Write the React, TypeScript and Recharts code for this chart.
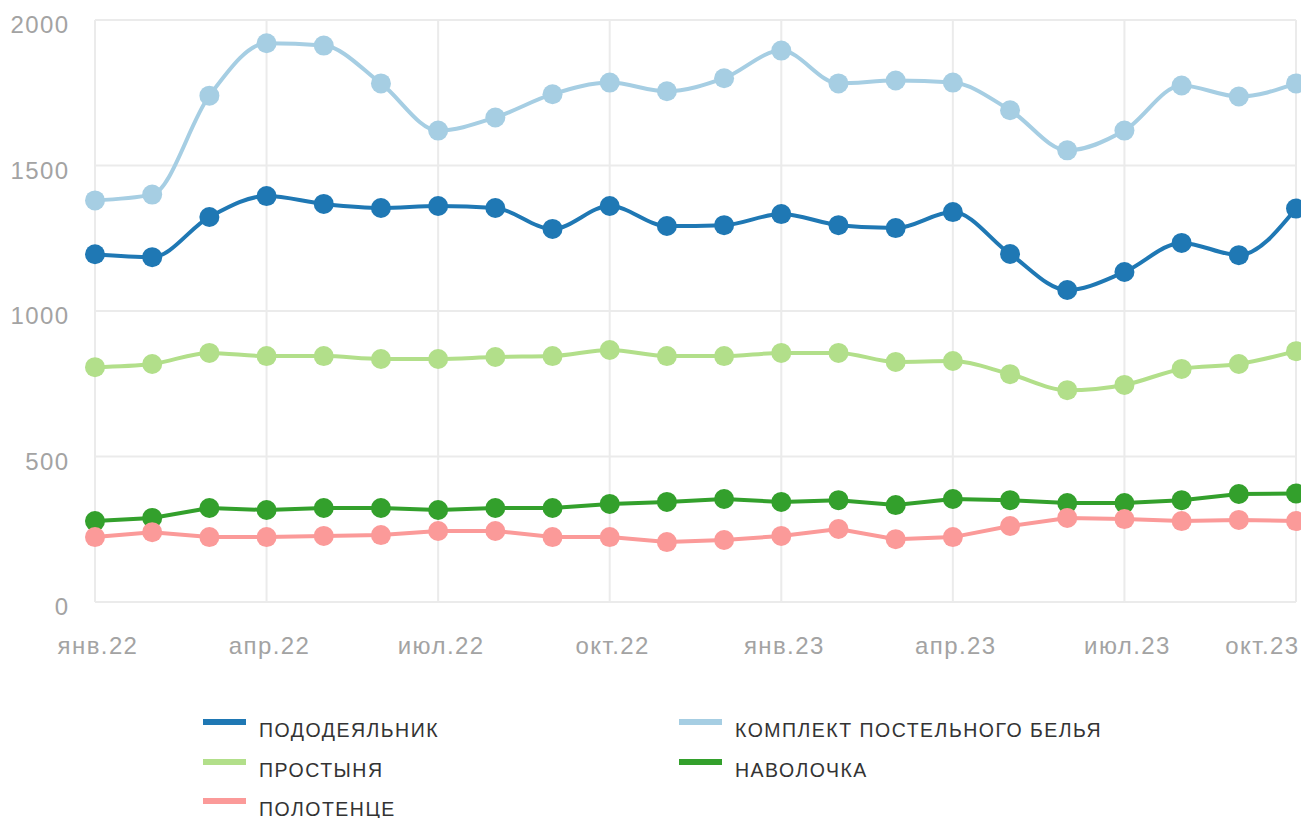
import React from 'react';
import { LineChart, Line, XAxis, YAxis, CartesianGrid } from 'recharts';

const months = [
  'янв.22', 'фев.22', 'мар.22', 'апр.22', 'май.22', 'июн.22', 'июл.22', 'авг.22', 'сен.22', 'окт.22', 'ноя.22', 'дек.22',
  'янв.23', 'фев.23', 'мар.23', 'апр.23', 'май.23', 'июн.23', 'июл.23', 'авг.23', 'сен.23', 'окт.23',
];
const xTicks = ['янв.22', 'апр.22', 'июл.22', 'окт.22', 'янв.23', 'апр.23', 'июл.23', 'окт.23'];
const yTicks = [0, 500, 1000, 1500, 2000];

const pododeyalnik = [1195, 1185, 1323, 1395, 1368, 1354, 1361, 1354, 1282, 1361, 1292, 1295, 1333, 1295, 1285, 1340, 1196, 1072, 1134, 1234, 1192, 1352];
const komplekt = [1380, 1400, 1740, 1920, 1912, 1782, 1620, 1665, 1745, 1785, 1755, 1800, 1895, 1782, 1792, 1785, 1690, 1552, 1620, 1775, 1737, 1782];
const prostynya = [807, 818, 856, 845, 845, 835, 835, 842, 845, 866, 845, 845, 856, 856, 825, 828, 783, 728, 746, 801, 818, 862];
const navolochka = [278, 289, 323, 316, 323, 323, 316, 323, 323, 337, 344, 354, 344, 350, 333, 354, 350, 340, 340, 350, 371, 373];
const polotence = [223, 240, 223, 223, 227, 230, 244, 244, 223, 223, 206, 213, 227, 251, 216, 223, 261, 289, 285, 278, 282, 278];

const seriesNames = ['ПОДОДЕЯЛЬНИК', 'КОМПЛЕКТ ПОСТЕЛЬНОГО БЕЛЬЯ', 'ПРОСТЫНЯ', 'НАВОЛОЧКА', 'ПОЛОТЕНЦЕ'];
const seriesKeys = ['pododeyalnik', 'komplekt', 'prostynya', 'navolochka', 'polotence'];
const seriesColors = ['#1f78b4', '#a6cee3', '#b2df8a', '#33a02c', '#fb9a99'];
const seriesCurves = ['monotone', 'monotone', 'monotone', 'linear', 'linear'];
const seriesValues = [pododeyalnik, komplekt, prostynya, navolochka, polotence];

const data = months.map((m, i) => {
  const row: Record<string, string | number> = { month: m };
  seriesKeys.forEach((k, s) => {
    row[k] = seriesValues[s][i];
  });
  return row;
});

const FONT = '"Liberation Sans", Arial, Helvetica, sans-serif';

const YTick = (props: any) => {
  const { y, payload } = props;
  return (
    <text
      x={69.5}
      y={y + 7}
      textAnchor="end"
      dominantBaseline="middle"
      fill="#a3a3a3"
      fontSize={24}
      letterSpacing={1.4}
      fontFamily={FONT}
    >
      {payload.value}
    </text>
  );
};

const XTick = (props: any) => {
  const { x, y, payload } = props;
  const isLast = payload.value === xTicks[xTicks.length - 1];
  return (
    <text
      x={isLast ? x + 3.5 : x + 3}
      y={y + 38}
      textAnchor={isLast ? 'end' : 'middle'}
      dominantBaseline="middle"
      fill="#a3a3a3"
      fontSize={24}
      letterSpacing={1.4}
      fontFamily={FONT}
    >
      {payload.value}
    </text>
  );
};

const legendPos = [
  { left: 203, top: 700 },
  { left: 679, top: 700 },
  { left: 203, top: 740 },
  { left: 679, top: 740 },
  { left: 203, top: 779 },
];

export default function App() {
  return (
    <div style={{ position: 'absolute', left: 0, top: 0, width: 1301, height: 818, background: '#fff' }}>
      <LineChart width={1301} height={662} data={data} margin={{ top: 20, right: 5, bottom: 0, left: 0 }}>
        <CartesianGrid stroke="#ebebeb" strokeWidth={2} />
        <XAxis
          dataKey="month"
          ticks={xTicks}
          interval={0}
          axisLine={false}
          tickLine={false}
          height={60}
          tick={<XTick />}
        />
        <YAxis
          domain={[0, 2000]}
          ticks={yTicks}
          axisLine={false}
          tickLine={false}
          width={95}
          tick={<YTick />}
        />
        {seriesKeys.map((k, s) => (
          <Line
            key={k}
            dataKey={k}
            name={seriesNames[s]}
            type={seriesCurves[s] as any}
            stroke={seriesColors[s]}
            strokeWidth={4}
            dot={{ r: 10, fill: seriesColors[s], stroke: 'none' }}
            activeDot={false}
            isAnimationActive={false}
          />
        ))}
      </LineChart>
      {seriesNames.map((n, s) => (
        <div
          key={n}
          style={{ position: 'absolute', left: legendPos[s].left, top: legendPos[s].top, height: 36, width: 470 }}
        >
          <div
            style={{
              position: 'absolute',
              left: 0,
              top: 19,
              width: 43,
              height: 6,
              background: seriesColors[s],
            }}
          />
          <div
            style={{
              position: 'absolute',
              left: 56,
              top: 22,
              fontFamily: FONT,
              fontSize: 19.5,
              letterSpacing: 1.5,
              lineHeight: '16px',
              color: '#333',
              whiteSpace: 'nowrap',
            }}
          >
            {n}
          </div>
        </div>
      ))}
    </div>
  );
}
